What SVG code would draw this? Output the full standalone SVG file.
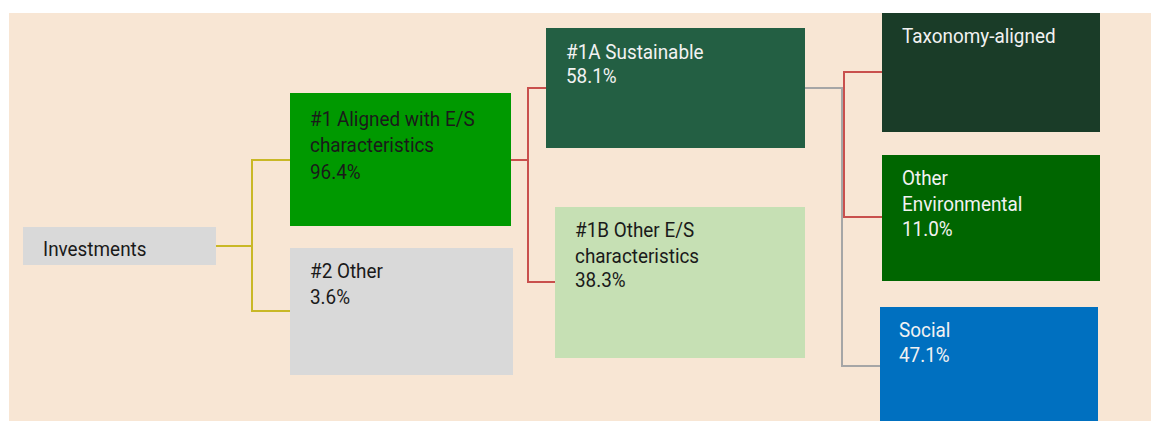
<svg xmlns="http://www.w3.org/2000/svg" width="1151" height="421" viewBox="0 0 1151 421">
<style>
text{font-family:Roboto,"Noto Sans",sans-serif;font-size:21px}
.dk{fill:#1a1a1a}
.lt{fill:#f2f2f2}
.c{fill:none;stroke-width:2}
</style>
<rect x="0" y="0" width="1151" height="421" fill="#ffffff"/>
<rect x="9" y="13" width="1142" height="408" fill="#f8e6d4"/>
<g id="connectors">
<polyline class="c" stroke="#c9b826" points="216,246 252,246"/>
<polyline class="c" stroke="#c9b826" points="290,160 252,160 252,311 290,311"/>
<polyline class="c" stroke="#c9504d" points="511,160 528,160"/>
<polyline class="c" stroke="#c9504d" points="546,88 528,88 528,282 555,282"/>
<polyline class="c" stroke="#a6a6a6" points="805,88 842,88 842,366 880,366"/>
<polyline class="c" stroke="#c9504d" points="882,72 844,72 844,217 882,217"/>
</g>
<g id="investments">
<rect x="23" y="227" width="193" height="38" fill="#d9d9d9"/>
<text transform="translate(43 0) scale(0.9 1)" x="0" y="256" class="dk">Investments</text>
</g>
<g id="aligned">
<rect x="290" y="93" width="221" height="133" fill="#009900"/>
<text class="dk" transform="translate(310 0) scale(0.9 1)"><tspan x="0" y="126">#1 Aligned with E/S</tspan><tspan x="0" y="152">characteristics</tspan><tspan x="0" y="179">96.4%</tspan></text>
</g>
<g id="other">
<rect x="290" y="248" width="223" height="127" fill="#d9d9d9"/>
<text class="dk" transform="translate(310 0) scale(0.9 1)"><tspan x="0" y="278">#2 Other</tspan><tspan x="0" y="304">3.6%</tspan></text>
</g>
<g id="sustainable">
<rect x="546" y="28" width="259" height="120" fill="#235f43"/>
<text class="lt" transform="translate(566 0) scale(0.9 1)"><tspan x="0" y="59">#1A Sustainable</tspan><tspan x="0" y="83">58.1%</tspan></text>
</g>
<g id="other-es">
<rect x="555" y="207" width="250" height="151" fill="#c6e0b4"/>
<text class="dk" transform="translate(575 0) scale(0.9 1)"><tspan x="0" y="237">#1B Other E/S</tspan><tspan x="0" y="263">characteristics</tspan><tspan x="0" y="287">38.3%</tspan></text>
</g>
<g id="taxonomy">
<rect x="882" y="13" width="218" height="119" fill="#1a3c28"/>
<text class="lt" transform="translate(902 0) scale(0.9 1)" x="0" y="43">Taxonomy-aligned</text>
</g>
<g id="other-env">
<rect x="882" y="155" width="218" height="126" fill="#006600"/>
<text class="lt" transform="translate(902 0) scale(0.9 1)"><tspan x="0" y="185">Other</tspan><tspan x="0" y="211">Environmental</tspan><tspan x="0" y="236">11.0%</tspan></text>
</g>
<g id="social">
<rect x="880" y="307" width="218" height="114" fill="#0070c0"/>
<text class="lt" transform="translate(899 0) scale(0.9 1)"><tspan x="0" y="337">Social</tspan><tspan x="0" y="362">47.1%</tspan></text>
</g>
</svg>
